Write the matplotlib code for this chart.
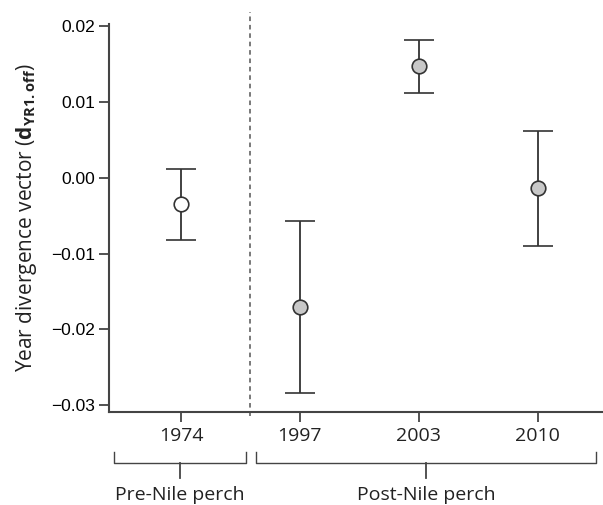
import matplotlib
matplotlib.use("Agg")
import matplotlib.pyplot as plt

plt.rcParams['font.family'] = ['Liberation Sans', 'DejaVu Sans']
plt.rcParams['mathtext.fontset'] = 'custom'
plt.rcParams['mathtext.bf'] = 'Open Sans:bold'
plt.rcParams['mathtext.rm'] = 'Open Sans'

years = ['1974', '1997', '2003', '2010']
means = [-0.0034, -0.0170, 0.0148, -0.0014]
upper = [0.0012, -0.0057, 0.0182, 0.0062]
lower = [-0.0082, -0.0284, 0.0112, -0.0090]
fills = ['white', '#c8c8c8', '#c8c8c8', '#c8c8c8']
groups = ['Pre-Nile perch', 'Post-Nile perch']

pos = [1, 2, 3, 4]
ink = '#333333'
soft = ['Open Sans', 'DejaVu Sans']

fig = plt.figure(figsize=(6.03, 5.05), dpi=100)
ax = fig.add_axes([0.1808, 0.1842, 0.8192, 0.7683])

for x, m, u, l, f in zip(pos, means, upper, lower, fills):
    ax.errorbar(x, m, yerr=[[m - l], [u - m]], fmt='o', ms=10.5,
                mfc=f, mec=ink, mew=1.2, ecolor=ink, elinewidth=1.3,
                capsize=11, capthick=1.3, zorder=3)

ax.axvline(1.58, ymin=-0.01, ymax=1.03, color='#555555', lw=1.1,
           ls=(0, (3, 2.5)), clip_on=False)

ax.set_xlim(0.395, 4.55)
ax.set_ylim(-0.0309, 0.0203)
ax.set_xticks(pos)
ax.set_xticklabels(years, family=soft, fontsize=14, color='#222222')
ax.set_yticks([0.02, 0.01, 0.0, -0.01, -0.02, -0.03])
ax.set_yticklabels(['0.02', '0.01', '0.00', '\u22120.01', '\u22120.02', '\u22120.03'],
                   fontsize=12.5)
ax.tick_params(axis='both', length=7, width=1.3, color='#444444', direction='out')
ax.tick_params(axis='x', pad=4)
ax.tick_params(axis='y', pad=3)
for s in ['top', 'right']:
    ax.spines[s].set_visible(False)
for s in ['left', 'bottom']:
    ax.spines[s].set_color('#444444')
    ax.spines[s].set_linewidth(1.5)

ax.set_ylabel(r'Year divergence vector ($\mathbf{d}_{\mathbf{YR1.off}}$)',
              fontsize=15, family=soft, color='#222222', labelpad=9)

# group brackets below the axis
tr = ax.get_xaxis_transform()
brackets = [(0.437, 1.546), (1.63, 4.49)]
for (a, b), name in zip(brackets, groups):
    c = (a + b) / 2
    ax.plot([a, a, b, b], [-0.103, -0.132, -0.132, -0.103], transform=tr,
            color='#444444', lw=1.0, clip_on=False)
    ax.plot([c, c], [-0.132, -0.170], transform=tr, color='#444444', lw=1.3, clip_on=False)
    ax.text(c, -0.215, name, transform=tr, ha='center', va='center',
            fontsize=14, family=soft, color='#222222')

fig.savefig('out.png', dpi=100)
